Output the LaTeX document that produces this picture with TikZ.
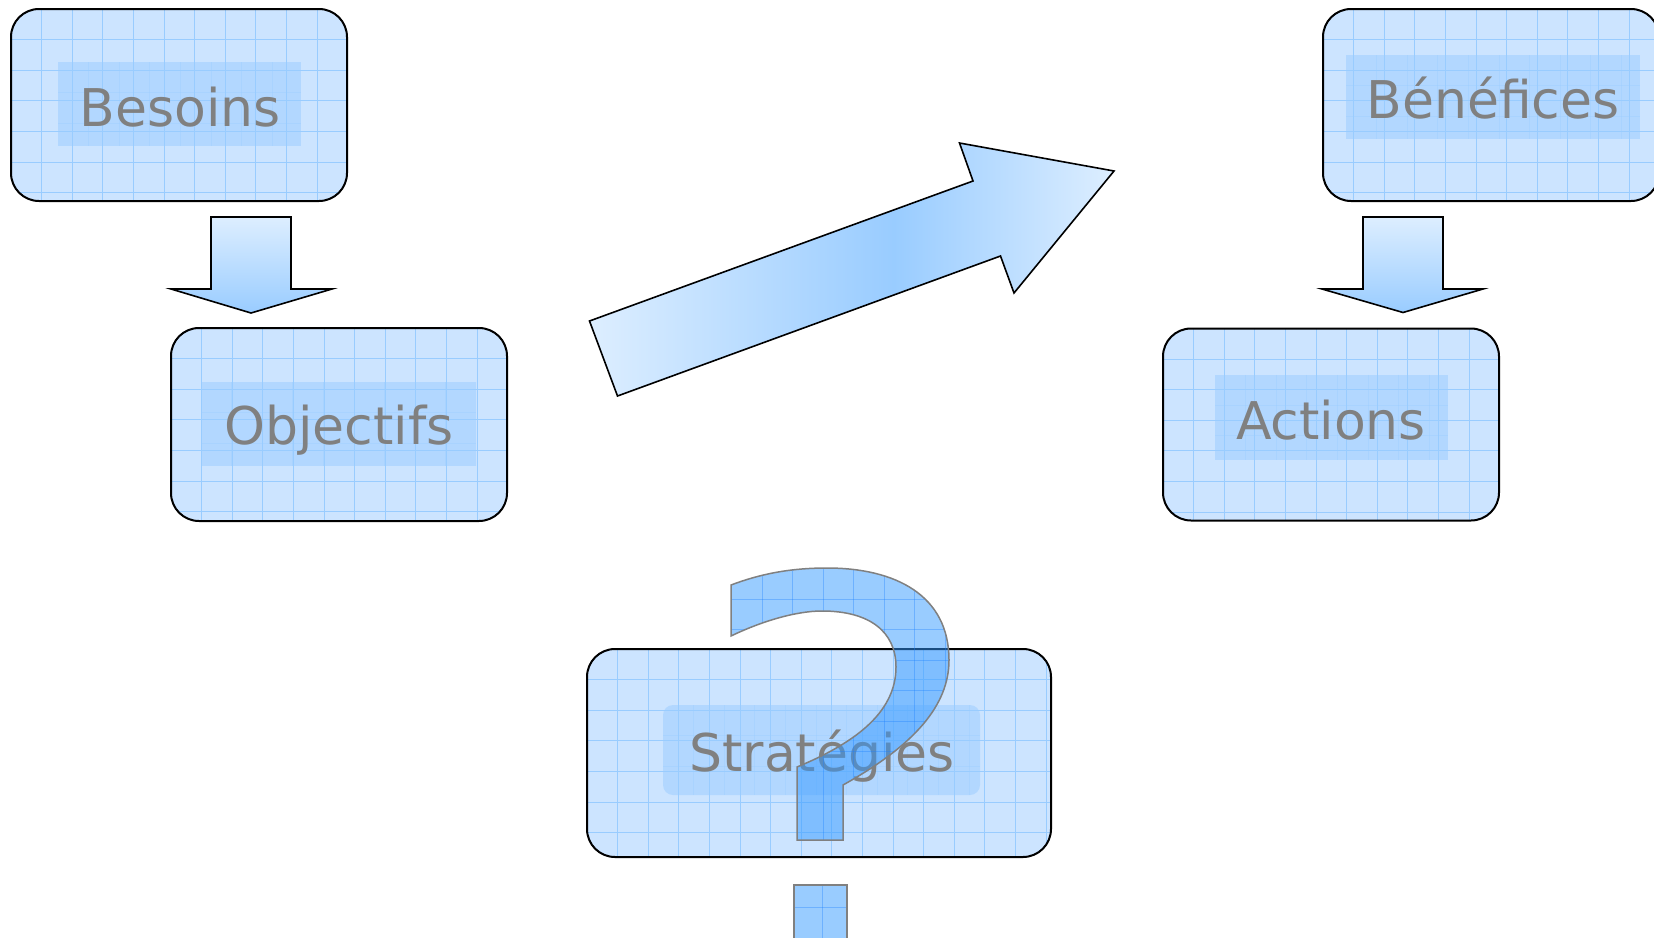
\documentclass[tikz,border=0pt]{standalone}
\usepackage{fontspec}
\setmainfont{DejaVu Sans}
\definecolor{boxfill}{HTML}{CCE4FF}
\definecolor{lightblue}{HTML}{DDEEFF}
\definecolor{midblue}{HTML}{99CCFF}
\definecolor{gridblue}{HTML}{99CCFF}
\definecolor{qblue}{HTML}{3399FF}
\definecolor{qgrid}{HTML}{1A80FF}
\definecolor{txtgray}{HTML}{808080}
\tikzset{
  gridline/.style={draw=gridblue, line width=0.9pt},
  gridded/.style={path picture={
    \foreach \k in {1,...,20}{
      \draw[gridline] ([xshift=\k*#1]path picture bounding box.north west) -- ([xshift=\k*#1]path picture bounding box.south west);
      \draw[gridline] ([yshift=-\k*#1]path picture bounding box.north west) -- ([yshift=-\k*#1]path picture bounding box.north east);
    }}},
  box/.style={draw=black, line width=2pt, fill=boxfill, rounded corners=28pt, inner sep=0pt, gridded=30.6pt},
  innerbox/.style={fill=midblue, fill opacity=0.5, inner sep=0pt,
    path picture={
    \foreach \k in {1,...,12}{
      \draw[gridblue, line width=0.8pt, opacity=0.35] ([xshift=\k*30.6pt]path picture bounding box.north west) -- ([xshift=\k*30.6pt]path picture bounding box.south west);
      \draw[gridblue, line width=0.8pt, opacity=0.35] ([yshift=-\k*30.6pt]path picture bounding box.north west) -- ([yshift=-\k*30.6pt]path picture bounding box.north east);
    }}},
  lbl/.style={text=txtgray, font=\fontsize{52}{60}\selectfont, inner sep=0pt, anchor=base},
  barrow/.style={draw=black, line width=1.6pt, line join=miter},
}
\pgfdeclarehorizontalshading{diagshade}{100bp}{
  color(0bp)=(lightblue); color(25bp)=(lightblue); color(54bp)=(midblue); color(75bp)=(lightblue); color(100bp)=(lightblue)}
\begin{document}
\begin{tikzpicture}[x=1pt,y=-1pt]
\useasboundingbox (0,0) rectangle (1654,937);

% boxes
\node[box, minimum width=336pt, minimum height=192pt] (besoins) at (179,105) {};
\node[innerbox, minimum width=243pt, minimum height=84pt] (ibesoins) at (179.5,104) {};
\node[lbl] (tbesoins) at (180,126) {Besoins};

\node[box, minimum width=336pt, minimum height=193pt] (objectifs) at (339,424.5) {};
\node[innerbox, minimum width=275pt, minimum height=84pt] (iobjectifs) at (338.5,424) {};
\node[lbl] (tobjectifs) at (339,444) {Objectifs};

\node[box, minimum width=336pt, minimum height=192pt] (benefices) at (1491,105) {};
\node[innerbox, minimum width=294pt, minimum height=84pt] (ibenefices) at (1493,97) {};
\node[lbl] (tbenefices) at (1493,118.5) {Bénéfices};

\node[box, minimum width=336pt, minimum height=192pt] (actions) at (1331,424.5) {};
\node[innerbox, minimum width=233pt, minimum height=85pt] (iactions) at (1331.5,417) {};
\node[lbl] (tactions) at (1331,439.5) {Actions};

\node[box, minimum width=464pt, minimum height=208pt] (strategies) at (819,753) {};
\node[innerbox, rounded corners=10pt, minimum width=317pt, minimum height=90pt] (istrategies) at (821.5,750) {};
\node[lbl] (tstrategies) at (822,771) {Stratégies};

% down arrows
\draw[barrow, top color=lightblue, bottom color=midblue]
  (211,217) -- (291,217) -- (291,289) -- (332,289) -- (251,313) -- (171,289) -- (211,289) -- cycle;
\draw[barrow, top color=lightblue, bottom color=midblue]
  (1363,217) -- (1443,217) -- (1443,289) -- (1483,289) -- (1403,312.5) -- (1322,289) -- (1363,289) -- cycle;

% diagonal arrow
\draw[barrow, shading=diagshade]
  (589.5,321) -- (973,181) -- (959.5,143) -- (1114,171) -- (1014,293) -- (1000.5,256) -- (617.5,396) -- cycle;

% question mark
\def\qpath{(843,785) .. controls (915,745) and (949,705) .. (949,660)
  .. controls (949,595) and (895,568) .. (827,568)
  .. controls (790,568) and (760,574) .. (731,585)
  -- (731,636) .. controls (760,622) and (795,611) .. (822,611)
  .. controls (870,611) and (896,632) .. (896,667)
  .. controls (896,715) and (850,745) .. (797,767)
  -- (797,840) -- (843,840) -- cycle}
\def\dpath{(794,885) rectangle (847,945)}
\begin{scope}
  \clip \qpath;
  \fill[qblue, opacity=0.5] (720,560) rectangle (960,850);
  \foreach \k in {-2,...,5}{
    \draw[qgrid, opacity=0.35, line width=0.9pt] (823+\k*30.5,560) -- (823+\k*30.5,850);
    \draw[qgrid, opacity=0.35, line width=0.9pt] (720,599+\k*30.5) -- (960,599+\k*30.5);
  }
\end{scope}
\draw[txtgray, line width=1.5pt, line join=miter] \qpath;
\begin{scope}
  \clip \dpath;
  \fill[qblue, opacity=0.5] (790,880) rectangle (850,945);
  \draw[qgrid, opacity=0.35, line width=0.9pt] (822,880) -- (822,945);
  \draw[qgrid, opacity=0.35, line width=0.9pt] (790,907) -- (850,907);
\end{scope}
\draw[txtgray, line width=1.5pt] \dpath;
\end{tikzpicture}
\end{document}
